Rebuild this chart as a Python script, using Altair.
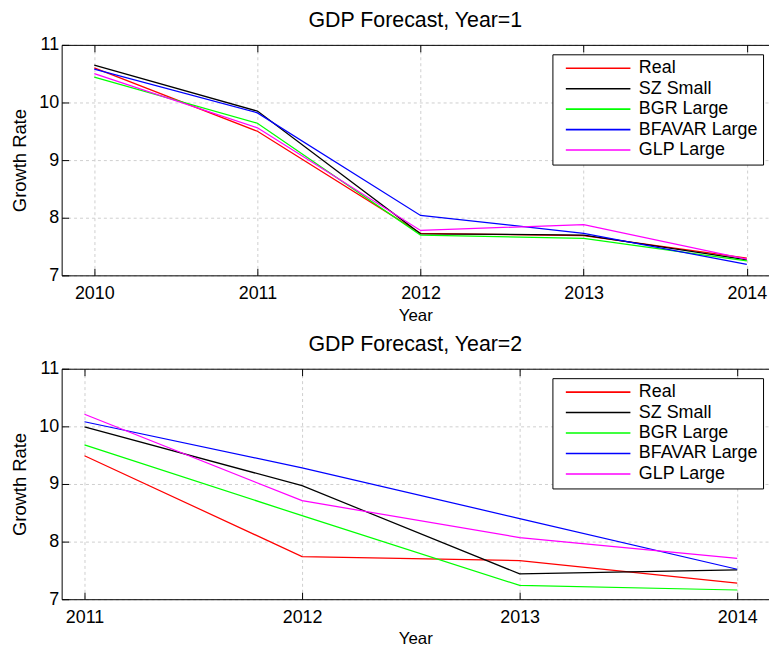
import altair as alt
import pandas as pd

series = ["Real", "SZ Small", "BGR Large", "BFAVAR Large", "GLP Large"]
colors = ["#ff0000", "#000000", "#00ff00", "#0000ff", "#ff00ff"]

# Panel 1: Year=1
years1 = [2010, 2011, 2012, 2013, 2014]
real1 = [10.60, 9.50, 7.73, 7.69, 7.30]
sz1 = [10.65, 9.85, 7.72, 7.70, 7.27]
bgr1 = [10.44, 9.64, 7.70, 7.64, 7.25]
bfavar1 = [10.58, 9.82, 8.04, 7.73, 7.19]
glp1 = [10.50, 9.56, 7.78, 7.88, 7.28]

# Panel 2: Year=2
years2 = [2011, 2012, 2013, 2014]
real2 = [9.49, 7.74, 7.67, 7.28]
sz2 = [9.99, 8.97, 7.44, 7.51]
bgr2 = [9.68, 8.45, 7.24, 7.16]
bfavar2 = [10.08, 9.28, 8.40, 7.52]
glp2 = [10.21, 8.71, 8.07, 7.71]

y_ticks = [7, 8, 9, 10, 11]

FONT = "Liberation Sans"
W = 712
H = 232
TICK = 7


def make_df(years, cols):
    rows = []
    for name, vals in zip(series, cols):
        for yr, v in zip(years, vals):
            rows.append({"year": yr, "value": v, "series": name})
    return pd.DataFrame(rows)


def tick_axis(orient, values, offset, domain=False):
    return alt.Axis(
        orient=orient,
        values=values,
        offset=offset,
        labels=False,
        ticks=True,
        tickSize=TICK,
        tickColor="black",
        tickWidth=1,
        grid=False,
        title=None,
        domain=domain,
    )


def panel(df, title, xdom, years):
    xscale = alt.Scale(domain=xdom, nice=False, zero=False)
    yscale = alt.Scale(domain=[7, 11], nice=False, zero=False)

    # top border with inward ticks
    top_border = alt.Chart(df).mark_line(opacity=0).encode(
        x=alt.X("year:Q", scale=xscale, axis=tick_axis("bottom", years, -H, domain=True)),
        y=alt.Y("value:Q", scale=yscale, axis=None),
    )
    # inward ticks on the bottom edge
    bottom_ticks = alt.Chart(df).mark_line(opacity=0).encode(
        x=alt.X("year:Q", scale=xscale, axis=tick_axis("top", years, -H)),
        y=alt.Y("value:Q", scale=yscale, axis=None),
    )
    # inward ticks on the left edge
    left_ticks = alt.Chart(df).mark_line(opacity=0).encode(
        x=alt.X("year:Q", scale=xscale, axis=None),
        y=alt.Y("value:Q", scale=yscale, axis=tick_axis("right", y_ticks, -W)),
    )

    lines = alt.Chart(df).mark_line(strokeWidth=1.25).encode(
        x=alt.X(
            "year:Q",
            scale=xscale,
            axis=alt.Axis(
                orient="bottom",
                values=years,
                format="d",
                title="Year",
                labelFontSize=18,
                titleFontSize=17,
                titleFontWeight="normal",
                labelPadding=9,
                titlePadding=5,
                ticks=False,
                tickSize=0,
                grid=True,
                labelFlush=False,
            ),
        ),
        y=alt.Y(
            "value:Q",
            scale=yscale,
            axis=alt.Axis(
                orient="left",
                values=y_ticks,
                title="Growth Rate",
                labelFontSize=18,
                titleFontSize=18.5,
                titleFontWeight="normal",
                labelPadding=3,
                titlePadding=9,
                ticks=False,
                tickSize=0,
                grid=True,
            ),
        ),
        color=alt.Color(
            "series:N",
            scale=alt.Scale(domain=series, range=colors),
            sort=series,
            legend=alt.Legend(
                title=None,
                orient="none",
                legendX=494,
                legendY=9.5,
                symbolType="M-5,0H5",
                symbolSize=169,
                symbolOffset=32,
                symbolStrokeWidth=1.6,
                symbolOpacity=1,
                symbolFillColor="transparent",
                labelFontSize=18,
                labelFont=FONT,
                labelColor="black",
                labelOffset=32,
                strokeColor="black",
                fillColor="white",
                padding=5,
                rowPadding=2.6,
                cornerRadius=0,
            ),
        ),
    )
    return (
        alt.layer(top_border, bottom_ticks, left_ticks, lines)
        .resolve_axis(x="independent", y="independent")
        .properties(
            width=W,
            height=H,
            title=alt.TitleParams(
                title,
                fontSize=21.5,
                fontWeight="normal",
                font=FONT,
                color="black",
                offset=4,
                anchor="middle",
            ),
        )
    )


df1 = make_df(years1, [real1, sz1, bgr1, bfavar1, glp1])
df2 = make_df(years2, [real2, sz2, bgr2, bfavar2, glp2])

p1 = panel(df1, "GDP Forecast, Year=1", [2009.8, 2014.136], years1)
p2 = panel(df2, "GDP Forecast, Year=2", [2010.895, 2014.146], years2)

chart = (
    alt.vconcat(p1, p2, spacing=11)
    .resolve_legend(color="independent")
    .properties(padding={"left": 2, "top": 0, "right": 0, "bottom": 0})
    .configure(font=FONT)
    .configure_view(stroke=None)
    .configure_axis(
        domainColor="black",
        domainWidth=1,
        labelColor="black",
        titleColor="black",
        labelFont=FONT,
        titleFont=FONT,
        titleFontWeight="normal",
        gridColor="#cfcfcf",
        gridDash=[3, 3],
        gridWidth=1,
    )
)

chart.save("out.html", embed_options={"renderer": "svg", "actions": False})
